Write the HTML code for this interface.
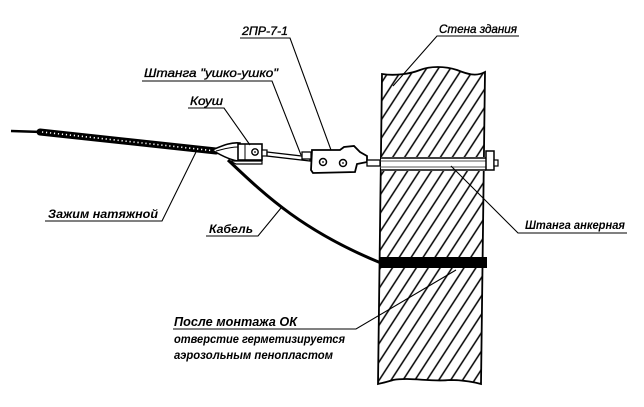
<!DOCTYPE html>
<html><head><meta charset="utf-8"><style>
html,body{margin:0;padding:0;background:#fff;}
svg{display:block;}
text{font-family:"Liberation Sans","DejaVu Sans",sans-serif;font-style:italic;fill:#000;}
</style></head><body>
<svg width="644" height="407" viewBox="0 0 644 407" xmlns="http://www.w3.org/2000/svg">
<defs>
<pattern id="hatch" width="10" height="10" patternUnits="userSpaceOnUse" patternTransform="rotate(33)">
<line x1="5" y1="-2" x2="5" y2="12" stroke="#000" stroke-width="1.5"/>
</pattern>
<clipPath id="wallclip"><path d="M382 74 C395 76,410 74,420 70 C430 66,445 66,457 70 C467 74,476 77,485 72 L481 384 C470 381,460 380,450 380 C430 382,410 377,393 380 C387 382,382 383,378 384 Z"/></clipPath>
</defs>

<!-- wall -->
<path d="M382 74 C395 76,410 74,420 70 C430 66,445 66,457 70 C467 74,476 77,485 72 L481 384 C470 381,460 380,450 380 C430 382,410 377,393 380 C387 382,382 383,378 384 Z" fill="#fff"/>
<rect x="370" y="60" width="130" height="330" fill="url(#hatch)" clip-path="url(#wallclip)"/>
<path d="M382 74 C395 76,410 74,420 70 C430 66,445 66,457 70 C467 74,476 77,485 72 L481 384 C470 381,460 380,450 380 C430 382,410 377,393 380 C387 382,382 383,378 384 Z" fill="none" stroke="#000" stroke-width="1.8"/>

<!-- anchor rod in wall -->
<rect x="381" y="157" width="104" height="14" fill="#fff"/>
<line x1="380" y1="158" x2="486" y2="158" stroke="#000" stroke-width="1.5"/>
<line x1="380" y1="161" x2="486" y2="161" stroke="#555" stroke-width="1"/>
<line x1="380" y1="167" x2="486" y2="167" stroke="#555" stroke-width="1"/>
<line x1="380" y1="170" x2="486" y2="170" stroke="#000" stroke-width="1.5"/>
<rect x="486" y="151" width="8" height="19" fill="#fff" stroke="#000" stroke-width="1.5"/>
<rect x="494" y="160" width="4" height="6" fill="#fff" stroke="#000" stroke-width="1.2"/>

<!-- black band -->
<rect x="380" y="257" width="107" height="11" fill="#000"/>

<!-- cable -->
<path d="M228 160 C262 192,300 230,381 263" fill="none" stroke="#000" stroke-width="3"/>

<!-- twisted tension clamp -->
<line x1="11" y1="131" x2="42" y2="132" stroke="#000" stroke-width="2.6"/>
<line x1="40" y1="132" x2="216" y2="151" stroke="#000" stroke-width="7" stroke-linecap="round"/>
<line x1="42" y1="132" x2="214" y2="150.8" stroke="#fff" stroke-width="1.6" stroke-dasharray="1.2 2.8"/>

<!-- thimble (коуш) -->
<path d="M212 150 C222 146,230 142,240 143 L240 161 C232 161,222 156,212 150 Z" fill="#fff" stroke="#000" stroke-width="1.6"/>
<path d="M216 151 C224 149,230 147,238 147" fill="none" stroke="#000" stroke-width="1"/>
<rect x="238" y="144" width="24" height="16" fill="#fff" stroke="#000" stroke-width="1.6"/>
<line x1="245" y1="144" x2="245" y2="160" stroke="#000" stroke-width="1"/>
<circle cx="255" cy="152" r="3.2" fill="#fff" stroke="#000" stroke-width="1.4"/>
<circle cx="255" cy="152" r="0.9" fill="#000"/>
<path d="M230 161 L262 161 L262 164 L236 164 Z" fill="#fff" stroke="#000" stroke-width="1.2"/>
<rect x="262" y="150" width="5" height="6" fill="#fff" stroke="#000" stroke-width="1.2"/>

<!-- ушко-ушко rod -->
<path d="M267 152 L310 157 L310 161 L267 156 Z" fill="#fff" stroke="#000" stroke-width="1.3"/>
<rect x="302" y="152" width="9" height="7" fill="#fff" stroke="#000" stroke-width="1.3"/>

<!-- 2ПР-7-1 plate -->
<path d="M312 150 L340 150 L344 147 L354 146 L360 152 L367 156 L367 162 L357 164 L355 172 L313 173 L311 170 Z" fill="#fff" stroke="#000" stroke-width="1.8"/>
<circle cx="323" cy="162" r="3.5" fill="#fff" stroke="#000" stroke-width="1.5"/>
<circle cx="323" cy="162" r="0.9" fill="#000"/>
<circle cx="343" cy="163" r="3.5" fill="#fff" stroke="#000" stroke-width="1.5"/>
<circle cx="343" cy="163" r="0.9" fill="#000"/>
<rect x="367" y="160" width="13" height="6" fill="#fff" stroke="#000" stroke-width="1.3"/>

<!-- leaders & underlines -->
<g stroke="#000" stroke-width="1.1" fill="none">
<polyline points="240,38 290,38 331,150"/>
<polyline points="142,81 272,81 301,155"/>
<polyline points="188,108 224,108 250,145"/>
<polyline points="519,36 437,36 393,86"/>
<polyline points="45,221 162,221 196,152"/>
<polyline points="206,236 258,236 281,208"/>
<polyline points="627,233 518,233 451,166"/>
<polyline points="173,329 356,329 456,270"/>
</g>

<!-- labels -->
<g stroke="#000" stroke-width="0.35">
<text x="242" y="35" font-size="12" textLength="46" lengthAdjust="spacingAndGlyphs">2ПР-7-1</text>
<text x="144" y="77" font-size="12" textLength="134" lengthAdjust="spacingAndGlyphs">Штанга "ушко-ушко"</text>
<text x="190" y="105" font-size="12" textLength="33" lengthAdjust="spacingAndGlyphs">Коуш</text>
<text x="439" y="33" font-size="12" textLength="78" lengthAdjust="spacingAndGlyphs">Стена здания</text>
</g>
<text x="48" y="218" font-size="12" font-weight="bold" textLength="110" lengthAdjust="spacingAndGlyphs">Зажим натяжной</text>
<text x="209" y="233" font-size="12" font-weight="bold" textLength="44" lengthAdjust="spacingAndGlyphs">Кабель</text>
<text x="525" y="229" font-size="12" font-weight="bold" textLength="100" lengthAdjust="spacingAndGlyphs">Штанга анкерная</text>
<text x="174" y="326" font-size="13" font-weight="bold" textLength="123" lengthAdjust="spacingAndGlyphs">После монтажа ОК</text>
<text x="174" y="343" font-size="12" font-weight="bold" textLength="171" lengthAdjust="spacingAndGlyphs">отверстие герметизируется</text>
<text x="174" y="359" font-size="12" font-weight="bold" textLength="159" lengthAdjust="spacingAndGlyphs">аэрозольным пенопластом</text>
</svg>
</body></html>
